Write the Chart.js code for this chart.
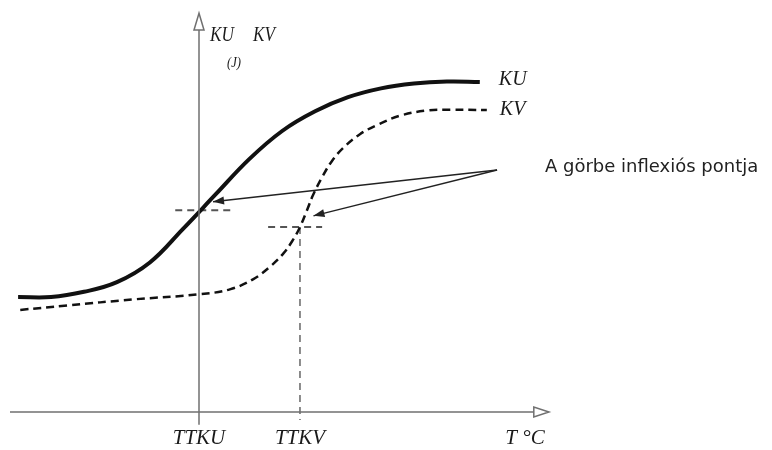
<!DOCTYPE html>
<html>
<head>
<meta charset="utf-8">
<script src="https://cdn.jsdelivr.net/npm/chart.js@4"></script>
<style>
  html, body { margin: 0; padding: 0; background: #fff; }
  #wrap { width: 772px; height: 450px; }
</style>
</head>
<body>
<div id="wrap"><canvas id="myChart" width="772" height="450"></canvas></div>
<script>
// schematic units: T (0-100) and energy (0-100)
const kuT = [1.5, 7.6, 13.7, 19.8, 25.9, 32.0, 38.2, 44.3, 50.4, 56.5, 62.6, 68.7, 74.8, 80.9, 87.0];
const kuE = [28.6, 28.6, 29.9, 32.3, 37.2, 45.5, 54.3, 62.9, 69.9, 74.8, 78.3, 80.5, 81.7, 82.2, 82.1];
const kvT = [1.9, 10.6, 22.8, 35.2, 40.7, 45.0, 48.2, 50.6, 52.4, 53.7, 55.0, 56.1, 57.8, 59.6, 61.7, 64.8, 68.0, 72.2, 77.2, 81.5, 88.3];
const kvE = [25.4, 26.5, 28.0, 29.3, 30.5, 33.0, 36.2, 39.4, 42.8, 46.0, 50.2, 53.9, 58.4, 62.4, 65.7, 69.1, 71.4, 73.7, 75.0, 75.2, 75.1];

const seriesNames = ['KU', 'KV'];
const tickValues = [35.0, 53.7];          // TTKU, TTKV
const tickLabels = ['TTKU', 'TTKV'];
const inflexE = [50.2, 46.0];             // energy at the inflection points
const axisTitleX = 'T °C';
const axisUnitY = '(J)';
const noteText = 'A görbe inflexiós pontja';
const noteFrom = [90.2, 60.2];
const noteTo = [[37.6, 52.3], [56.2, 48.8]];

const toPts = (xs, ys) => xs.map((x, i) => ({x: x, y: ys[i]}));

// italic serif like the original typeset labels
const serifText = (ctx, txt, x, y, align, size, sx) => {
  ctx.save();
  ctx.font = 'italic ' + (size || 20) + 'px "Liberation Serif", "DejaVu Serif", serif';
  ctx.textAlign = align;
  ctx.textBaseline = 'middle';
  ctx.translate(x, y);
  ctx.scale(sx || 1, 1);
  ctx.fillText(txt, 0, 0);
  ctx.restore();
};

const drawBits = {
  id: 'drawBits',
  afterDraw(chart) {
    const ctx = chart.ctx;
    const xs = chart.scales.x, ys = chart.scales.y;
    const px = v => xs.getPixelForValue(v);
    const py = v => ys.getPixelForValue(v);
    ctx.save();

    // axes
    ctx.strokeStyle = '#707070';
    ctx.lineWidth = 1.5;
    const ax = px(tickValues[0]);
    ctx.beginPath();
    ctx.moveTo(ax, py(-3.2));
    ctx.lineTo(ax, py(95));
    ctx.moveTo(px(0), py(0));
    ctx.lineTo(px(97), py(0));
    ctx.stroke();

    // open arrow heads
    ctx.fillStyle = '#fff';
    ctx.beginPath();
    ctx.moveTo(ax, py(99.2));
    ctx.lineTo(ax - 5, py(95));
    ctx.lineTo(ax + 5, py(95));
    ctx.closePath();
    ctx.fill(); ctx.stroke();
    ctx.beginPath();
    ctx.moveTo(px(99.8), py(0));
    ctx.lineTo(px(97), py(0) - 5);
    ctx.lineTo(px(97), py(0) + 5);
    ctx.closePath();
    ctx.fill(); ctx.stroke();

    // note arrow heads
    ctx.fillStyle = '#222';
    noteTo.forEach(t => {
      const x1 = px(noteFrom[0]), y1 = py(noteFrom[1]);
      const x2 = px(t[0]), y2 = py(t[1]);
      const a = Math.atan2(y2 - y1, x2 - x1);
      ctx.beginPath();
      ctx.moveTo(x2, y2);
      ctx.lineTo(x2 - 11 * Math.cos(a) + 4 * Math.sin(a), y2 - 11 * Math.sin(a) - 4 * Math.cos(a));
      ctx.lineTo(x2 - 11 * Math.cos(a) - 4 * Math.sin(a), y2 - 11 * Math.sin(a) + 4 * Math.cos(a));
      ctx.closePath();
      ctx.fill();
    });

    // texts
    ctx.fillStyle = '#1a1a1a';
    tickValues.forEach((v, i) => serifText(ctx, tickLabels[i], px(v), 438, 'center', 21));
    serifText(ctx, axisTitleX, 525, 438, 'center', 21);
    serifText(ctx, seriesNames[0], 210, 36, 'left', 20, 0.86);
    serifText(ctx, seriesNames[1], 253, 36, 'left', 20, 0.86);
    serifText(ctx, seriesNames[0], px(kuT[kuT.length - 1]) + 19, py(kuE[kuE.length - 1]) - 2, 'left', 20);
    serifText(ctx, seriesNames[1], px(kvT[kvT.length - 1]) + 13, py(kvE[kvE.length - 1]), 'left', 20);
    serifText(ctx, axisUnitY, 227, 63, 'left', 14, 0.9);
    ctx.fillStyle = '#222';
    ctx.font = '18px "DejaVu Sans", sans-serif';
    ctx.textAlign = 'left';
    ctx.textBaseline = 'alphabetic';
    ctx.fillText(noteText, 545, 172);
    ctx.restore();
  }
};

const ctx = document.getElementById('myChart').getContext('2d');
const chart = new Chart(ctx, {
  type: 'scatter',
  data: {
    datasets: [
      {
        label: seriesNames[0],
        data: toPts(kuT, kuE),
        showLine: true,
        borderColor: '#111',
        borderWidth: 4,
        pointRadius: 0,
        tension: 0.4
      },
      {
        label: seriesNames[1],
        data: toPts(kvT, kvE),
        showLine: true,
        borderColor: '#111',
        borderWidth: 2.5,
        borderDash: [8, 5],
        pointRadius: 0,
        tension: 0.4
      },
      {
        label: 'inflexio KU',
        data: [{x: 30.6, y: inflexE[0]}, {x: 41.1, y: inflexE[0]}],
        showLine: true, borderColor: '#555', borderWidth: 2, borderDash: [7, 5], pointRadius: 0
      },
      {
        label: 'inflexio KV',
        data: [{x: 47.8, y: inflexE[1]}, {x: 57.8, y: inflexE[1]}],
        showLine: true, borderColor: '#555', borderWidth: 2, borderDash: [7, 5], pointRadius: 0
      },
      {
        label: 'TTKV',
        data: [{x: tickValues[1], y: inflexE[1]}, {x: tickValues[1], y: -2}],
        showLine: true, borderColor: '#666', borderWidth: 1.5, borderDash: [7, 5], pointRadius: 0,
        clip: false
      },
      {
        label: 'nyil 1',
        data: [{x: noteFrom[0], y: noteFrom[1]}, {x: noteTo[0][0], y: noteTo[0][1]}],
        showLine: true, borderColor: '#222', borderWidth: 1.3, pointRadius: 0
      },
      {
        label: 'nyil 2',
        data: [{x: noteFrom[0], y: noteFrom[1]}, {x: noteTo[1][0], y: noteTo[1][1]}],
        showLine: true, borderColor: '#222', borderWidth: 1.3, pointRadius: 0
      }
    ]
  },
  options: {
    responsive: false,
    animation: false,
    layout: { padding: { left: 10, right: 222, top: 10, bottom: 38 } },
    scales: {
      x: { type: 'linear', min: 0, max: 100, display: false },
      y: { type: 'linear', min: 0, max: 100, display: false }
    },
    plugins: {
      legend: { display: false },
      tooltip: { enabled: false }
    }
  },
  plugins: [drawBits]
});
</script>
</body>
</html>
